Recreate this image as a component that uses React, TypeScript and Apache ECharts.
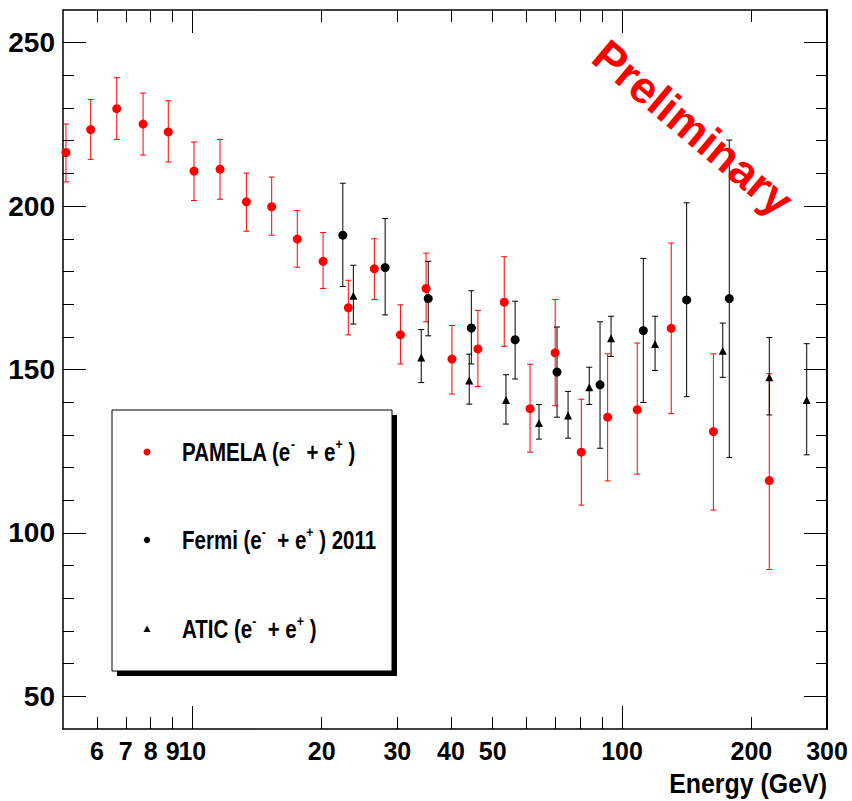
import React, { useEffect, useRef } from 'react';
import * as echarts from 'echarts';

// ---------- Data ----------
const pamelaEnergy = [5.08, 5.8, 6.67, 7.68, 8.79, 10.09, 11.6, 13.36, 15.3, 17.55, 20.15, 23.07, 26.52, 30.5, 35.0, 40.2, 46.2, 53.2, 61.1, 69.9, 80.4, 92.6, 108.5, 130.2, 163.2, 220.2];
const pamelaValue = [216.4, 223.4, 229.8, 225.1, 222.7, 210.7, 211.3, 201.3, 199.8, 189.9, 183.1, 168.9, 180.8, 160.6, 174.8, 153.2, 156.3, 170.6, 138.0, 155.1, 124.7, 135.4, 137.7, 162.6, 131.0, 116.0];
const pamelaLow = [207.4, 214.3, 220.4, 215.6, 213.5, 201.7, 202.1, 192.3, 191.1, 181.3, 174.8, 160.6, 171.4, 151.7, 164.6, 142.5, 144.8, 157.1, 124.7, 138.9, 108.5, 115.9, 118.0, 136.5, 107.0, 88.8];
const pamelaHigh = [225.1, 232.6, 239.3, 234.6, 232.2, 219.6, 220.4, 210.1, 208.9, 198.6, 191.9, 177.3, 190.0, 169.8, 185.6, 163.5, 168.1, 184.5, 151.6, 171.4, 140.9, 154.8, 158.1, 188.7, 154.8, 148.7];

const fermiEnergy = [22.4, 28.1, 35.4, 44.6, 56.4, 70.6, 88.9, 112.1, 141.4, 177.7];
const fermiValue = [191.1, 181.2, 171.7, 162.7, 159.1, 149.2, 145.3, 161.9, 171.3, 171.7];
const fermiLow = [175.4, 166.7, 160.3, 151.7, 147.1, 135.4, 125.9, 139.9, 141.7, 123.1];
const fermiHigh = [207.0, 196.2, 183.1, 174.1, 170.9, 163.0, 164.6, 184.0, 201.0, 220.2];

const aticEnergy = [23.7, 34.1, 44.1, 53.7, 64.1, 74.9, 83.9, 94.3, 119.4, 171.6, 220.2, 269.1];
const aticValue = [172.6, 153.7, 146.6, 140.7, 133.6, 135.9, 144.6, 159.6, 157.8, 155.7, 147.6, 140.7];
const aticLow = [163.9, 146.0, 139.4, 133.3, 128.7, 129.0, 139.3, 154.0, 149.7, 147.6, 136.1, 123.9];
const aticHigh = [181.9, 162.2, 154.7, 148.4, 139.3, 143.3, 150.7, 166.3, 166.3, 164.2, 159.8, 157.9];

const xLabelValues = [6, 7, 8, 9, 10, 20, 30, 40, 50, 100, 200, 300];
const xMajorTicks = [10, 100];
const xMinorTicks = [6, 7, 8, 9, 20, 30, 40, 50, 60, 70, 80, 90, 200, 300];
const yMajorTicks = [50, 100, 150, 200, 250];
const yMinorTicks = [60, 70, 80, 90, 110, 120, 130, 140, 160, 170, 180, 190, 210, 220, 230, 240];

const names = ['PAMELA (e- + e+)', 'Fermi (e- + e+) 2011', 'ATIC (e- + e+)'];

const FONT_SANS = "'Liberation Sans', Arial, Helvetica, sans-serif";

function errorBarSeries(name: string, energy: number[], low: number[], high: number[], color: string) {
  return {
    type: 'custom',
    name,
    xAxisIndex: 0,
    yAxisIndex: 0,
    silent: true,
    z: 2,
    data: energy.map((e, i) => [e, low[i], high[i]]),
    encode: { x: 0, y: [1, 2] },
    renderItem: (params: any, api: any) => {
      const x = api.value(0);
      const lo = api.value(1);
      const hi = api.value(2);
      const p1 = api.coord([x, hi]);
      const p2 = api.coord([x, lo]);
      const st = { stroke: color, lineWidth: 1 };
      return {
        type: 'group',
        children: [
          { type: 'line', shape: { x1: p1[0], y1: p1[1], x2: p2[0], y2: p2[1] }, style: st },
          { type: 'line', shape: { x1: p1[0] - 3, y1: p1[1], x2: p1[0] + 3, y2: p1[1] }, style: st },
          { type: 'line', shape: { x1: p2[0] - 3, y1: p2[1], x2: p2[0] + 3, y2: p2[1] }, style: st },
        ],
      };
    },
  };
}

function xAxisDef(position: 'top' | 'bottom', ticks: number[], len: number, labels: boolean, line: boolean) {
  return {
    type: 'log',
    logBase: 10,
    position,
    min: 5,
    max: 300,
    axisLine: { show: line, onZero: false, lineStyle: { color: '#000', width: 1.5 } },
    axisTick: { show: true, inside: true, length: len, customValues: ticks, lineStyle: { color: '#000', width: 1 } },
    axisLabel: labels
      ? { show: true, customValues: xLabelValues, color: '#000', fontSize: 25, fontWeight: 'bold', fontFamily: FONT_SANS, margin: 9 }
      : { show: false },
    splitLine: { show: false },
    minorTick: { show: false },
  };
}

function yAxisDef(position: 'left' | 'right', ticks: number[], len: number, labels: boolean, line: boolean, lw: number) {
  return {
    type: 'value',
    position,
    min: 40,
    max: 260,
    axisLine: { show: line, onZero: false, lineStyle: { color: '#000', width: lw } },
    axisTick: { show: true, inside: true, length: len, customValues: ticks, lineStyle: { color: '#000', width: 1 } },
    axisLabel: labels
      ? { show: true, customValues: yMajorTicks, color: '#000', fontSize: 28, fontWeight: 'bold', fontFamily: FONT_SANS, margin: 8 }
      : { show: false },
    splitLine: { show: false },
  };
}

const rich = {
  n: { fontSize: 25, fontWeight: 'bold', fontFamily: FONT_SANS, lineHeight: 30, fill: '#000' },
  s: { fontSize: 15, fontWeight: 'bold', fontFamily: FONT_SANS, lineHeight: 16, verticalAlign: 'top', fill: '#000' },
};

const legendTexts = [
  '{n|PAMELA (e}{s|-}{n|  + e}{s|+}{n| )}',
  '{n|Fermi (e}{s|-}{n|  + e}{s|+}{n| ) 2011}',
  '{n|ATIC (e}{s|-}{n|  + e}{s|+}{n| )}',
];

export default function App() {
  const ref = useRef<HTMLDivElement>(null);
  useEffect(() => {
    if (!ref.current) return;
    const chart = echarts.init(ref.current, null, { renderer: 'svg' });
    const option: any = {
      animation: false,
      backgroundColor: '#fff',
      grid: { left: 63, right: 25, top: 10, bottom: 72, containLabel: false },
      xAxis: [
        xAxisDef('bottom', xMajorTicks, 23, true, true),
        xAxisDef('bottom', xMinorTicks, 12, false, false),
        xAxisDef('top', xMajorTicks, 23, false, true),
        xAxisDef('top', xMinorTicks, 12, false, false),
      ],
      yAxis: [
        yAxisDef('left', yMajorTicks, 23, true, true, 1.5),
        yAxisDef('left', yMinorTicks, 11, false, false, 1.5),
        yAxisDef('right', yMajorTicks, 23, false, true, 2),
        yAxisDef('right', yMinorTicks, 11, false, false, 2),
      ],
      series: [
        errorBarSeries('PAMELA errors', pamelaEnergy, pamelaLow, pamelaHigh, '#ff0000'),
        errorBarSeries('Fermi errors', fermiEnergy, fermiLow, fermiHigh, '#000000'),
        errorBarSeries('ATIC errors', aticEnergy, aticLow, aticHigh, '#000000'),
        {
          type: 'scatter',
          name: names[0],
          xAxisIndex: 0,
          yAxisIndex: 0,
          symbol: 'circle',
          symbolSize: 9,
          z: 3,
          itemStyle: { color: '#ff0000', opacity: 1 },
          data: pamelaEnergy.map((e, i) => [e, pamelaValue[i]]),
        },
        {
          type: 'scatter',
          name: names[1],
          xAxisIndex: 0,
          yAxisIndex: 0,
          symbol: 'circle',
          symbolSize: 9,
          z: 3,
          itemStyle: { color: '#000000', opacity: 1 },
          data: fermiEnergy.map((e, i) => [e, fermiValue[i]]),
        },
        {
          type: 'scatter',
          name: names[2],
          xAxisIndex: 0,
          yAxisIndex: 0,
          symbol: 'triangle',
          symbolSize: [8, 8],
          z: 3,
          itemStyle: { color: '#000000', opacity: 1 },
          data: aticEnergy.map((e, i) => [e, aticValue[i]]),
        },
      ],
      graphic: [
        { type: 'rect', z: 10, shape: { x: 117, y: 415, width: 280, height: 261 }, style: { fill: '#000' } },
        { type: 'rect', z: 11, shape: { x: 112, y: 410, width: 280, height: 261 }, style: { fill: '#fff', stroke: '#000', lineWidth: 1 } },
        { type: 'circle', z: 12, shape: { cx: 147, cy: 452, r: 3.5 }, style: { fill: '#ff0000' } },
        { type: 'circle', z: 12, shape: { cx: 147, cy: 540, r: 3.2 }, style: { fill: '#000' } },
        { type: 'polygon', z: 12, shape: { points: [[147, 625.5], [143.5, 632], [150.5, 632]] }, style: { fill: '#000' } },
        ...legendTexts.map((t, i) => ({
          type: 'text',
          z: 12,
          x: 182,
          y: [452, 540, 629][i],
          scaleX: 0.82,
          style: { text: t, rich, fill: '#000', align: 'left', verticalAlign: 'middle' },
        })),
        {
          type: 'text',
          z: 12,
          x: 827,
          y: 783,
          scaleX: 0.89,
          style: {
            text: 'Energy (GeV)',
            fill: '#000',
            font: `bold 28px ${FONT_SANS}`,
            align: 'right',
            verticalAlign: 'middle',
          },
        },
        {
          type: 'text',
          z: 12,
          x: 693,
          y: 128,
          rotation: (-40 * Math.PI) / 180,
          style: {
            text: 'Preliminary',
            fill: '#ff0000',
            font: `bold 45px ${FONT_SANS}`,
            align: 'center',
            verticalAlign: 'middle',
          },
        },
      ],
    };
    chart.setOption(option);
    return () => chart.dispose();
  }, []);
  return <div ref={ref} style={{ position: 'absolute', left: 0, top: 0, width: 852, height: 801 }} />;
}
